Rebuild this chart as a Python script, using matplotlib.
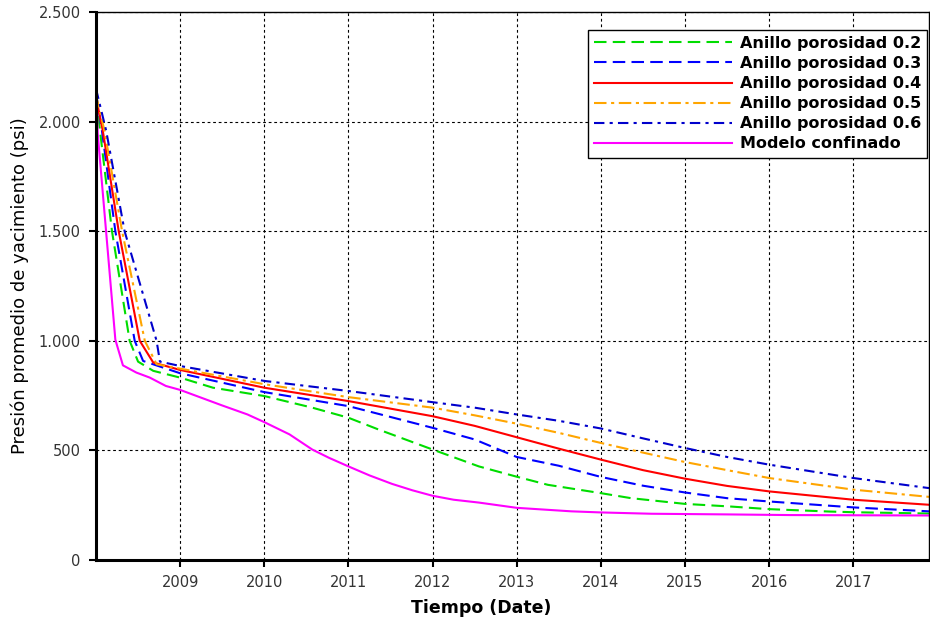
import matplotlib
matplotlib.use("Agg")
import matplotlib.pyplot as plt
from matplotlib.ticker import FixedLocator, FuncFormatter

# tiempo en años decimales, presión en psi
t_02 = [2008.0, 2008.05, 2008.19, 2008.40, 2008.50, 2008.68, 2009.0, 2009.39, 2010.0, 2010.57,
        2011.0, 2011.36, 2012.0, 2012.55, 2013.0, 2013.37, 2014.0, 2014.36, 2015.0, 2015.54,
        2016.0, 2016.72, 2017.0, 2017.9]
p_02 = [2110, 1950, 1500, 1000, 905, 863, 832, 786, 748, 695,
        649, 595, 504, 427, 380, 343, 305, 282, 256, 244,
        232, 221, 218, 212]

t_03 = [2008.0, 2008.07, 2008.23, 2008.46, 2008.56, 2009.0, 2010.0, 2011.0, 2012.0, 2012.5,
        2013.0, 2013.5, 2014.0, 2014.5, 2015.0, 2015.5, 2016.0, 2017.0, 2017.9]
p_03 = [2130, 1960, 1500, 1000, 908, 852, 766, 702, 603, 550,
        470, 430, 379, 339, 308, 282, 267, 240, 222]

t_04 = [2008.0, 2008.08, 2008.27, 2008.52, 2008.68, 2009.0, 2010.0, 2011.0, 2012.0, 2012.5,
        2013.0, 2013.5, 2014.0, 2014.5, 2015.0, 2015.5, 2016.0, 2017.0, 2017.9]
p_04 = [2110, 1960, 1500, 1000, 901, 867, 786, 725, 656, 612,
        560, 508, 458, 410, 371, 338, 313, 275, 252]

t_05 = [2008.0, 2008.1, 2008.31, 2008.58, 2008.72, 2009.0, 2010.0, 2011.0, 2012.0, 2012.5,
        2013.0, 2013.5, 2014.0, 2014.5, 2015.0, 2015.5, 2016.0, 2017.0, 2017.9]
p_05 = [2120, 1960, 1500, 1000, 893, 873, 802, 743, 695, 660,
        622, 580, 534, 490, 447, 410, 374, 321, 288]

t_06 = [2008.0, 2008.12, 2008.34, 2008.72, 2008.76, 2009.0, 2010.0, 2011.0, 2012.0, 2012.5,
        2013.0, 2013.5, 2014.0, 2014.5, 2015.0, 2015.5, 2016.0, 2017.0, 2017.9]
p_06 = [2150, 1960, 1500, 1000, 905, 885, 817, 771, 720, 695,
        664, 635, 600, 555, 511, 470, 435, 374, 328]

t_conf = [2008.0, 2008.02, 2008.23, 2008.32, 2008.48, 2008.64, 2008.83, 2009.0, 2009.5, 2009.8,
          2010.0, 2010.3, 2010.57, 2010.77, 2011.0, 2011.25, 2011.52, 2011.76, 2012.0, 2012.25,
          2012.55, 2013.0, 2013.65, 2014.0, 2014.6, 2015.5, 2016.25, 2017.9]
p_conf = [2170, 1947, 1005, 888, 855, 832, 794, 776, 705, 664,
          629, 573, 504, 466, 427, 386, 347, 318, 293, 275,
          262, 238, 222, 217, 211, 208, 205, 203]

labels = ["Anillo porosidad 0.2", "Anillo porosidad 0.3", "Anillo porosidad 0.4",
          "Anillo porosidad 0.5", "Anillo porosidad 0.6", "Modelo confinado"]
years = [2009, 2010, 2011, 2012, 2013, 2014, 2015, 2016, 2017]
y_ticks = [0, 500, 1000, 1500, 2000, 2500]

fig = plt.figure(figsize=(9.3, 6.21), dpi=100)
ax = fig.add_axes([96 / 930, 61 / 621, 833 / 930, 548 / 621])

series = [
    (t_02, p_02, "#00dd00", (0, (6, 3))),
    (t_03, p_03, "#0000ff", (0, (6, 3))),
    (t_04, p_04, "#ff0000", "-"),
    (t_05, p_05, "#ffa500", (0, (6, 2.2, 1.5, 2.2))),
    (t_06, p_06, "#0000cc", (0, (5, 2.5, 1.5, 2.5))),
    (t_conf, p_conf, "#ff00ff", "-"),
]
for (t, p, c, ls), lab in zip(series, labels):
    ax.plot(t, p, color=c, linestyle=ls, linewidth=1.5, label=lab)

ax.set_xlim(2008.0, 2017.9)
ax.set_ylim(0, 2500)
ax.xaxis.set_major_locator(FixedLocator(years))
ax.yaxis.set_major_locator(FixedLocator(y_ticks))
ax.yaxis.set_major_formatter(FuncFormatter(lambda v, pos: f"{int(v):,}".replace(",", ".")))
ax.xaxis.set_major_formatter(FuncFormatter(lambda v, pos: str(int(round(v)))))

# rejilla punteada negra
ax.grid(True, color="black", linestyle=(0, (2.5, 2.5)), linewidth=0.8)
ax.set_axisbelow(True)

for side in ["left", "bottom"]:
    ax.spines[side].set_linewidth(2.2)
for side in ["top", "right"]:
    ax.spines[side].set_linewidth(1.0)

ax.tick_params(axis="both", direction="out", length=5, width=1.5, labelsize=10.5,
               labelcolor="#333333", pad=6)

ax.set_xlabel("Tiempo (Date)", fontsize=12.5, fontweight="bold", labelpad=5)
ax.xaxis.set_label_coords(0.462, -0.072)
ax.set_ylabel("Presión promedio de yacimiento (psi)", fontsize=13, labelpad=7)

leg = ax.legend(loc="upper right", bbox_to_anchor=(0.998, 0.968), borderaxespad=0,
                fontsize=11.5, handlelength=8.6, labelspacing=0.32, handletextpad=0.5,
                borderpad=0.4, fancybox=False, framealpha=1)
leg.get_frame().set_edgecolor("black")
leg.get_frame().set_linewidth(1.0)
for txt in leg.get_texts():
    txt.set_fontweight("semibold")

plt.savefig("out.png", dpi=100)
